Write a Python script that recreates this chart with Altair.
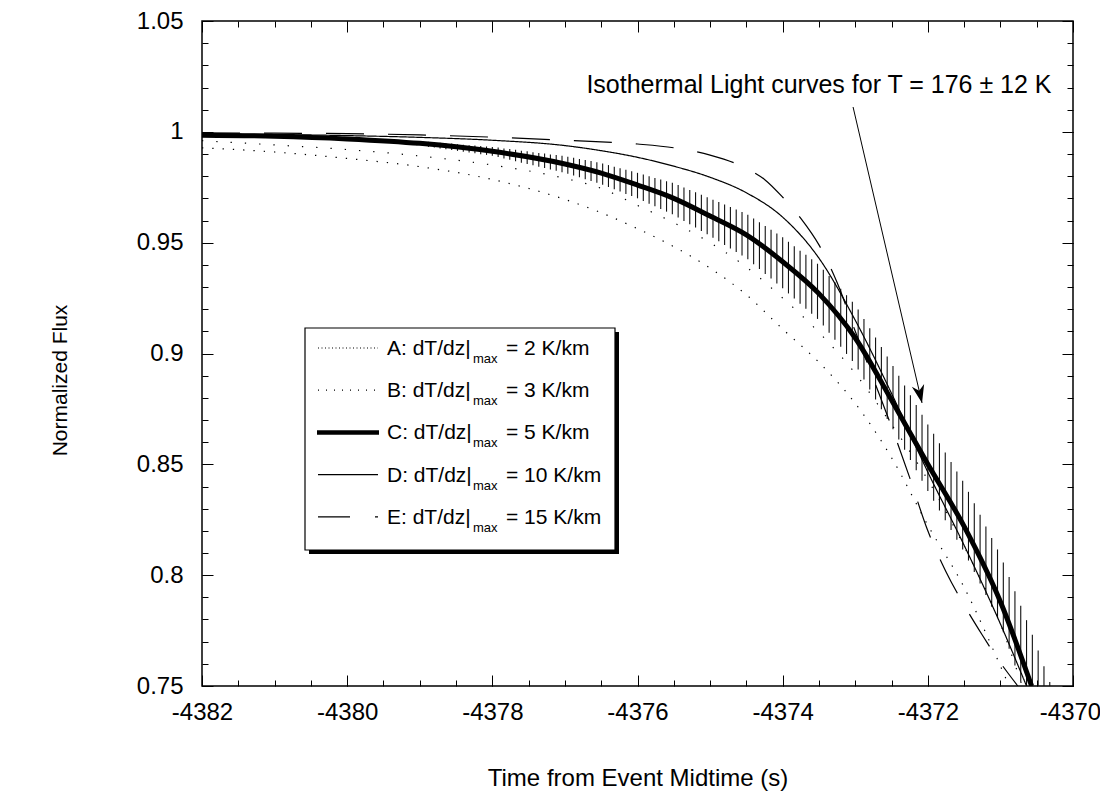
import altair as alt
import pandas as pd

# ---------------- data ----------------
# Curve C (thick): dT/dz|max = 5 K/km
C_T = [-4382, -4381, -4380, -4379, -4378, -4377, -4376.5, -4376, -4375.5, -4375,
       -4374.5, -4374, -4373.5, -4373, -4372.5, -4372, -4371.5, -4371, -4370.57]
C_F = [0.9985, 0.9980, 0.9968, 0.9948, 0.9912, 0.9855, 0.9814, 0.9760, 0.9700, 0.9620,
       0.9535, 0.9414, 0.9270, 0.9070, 0.8790, 0.8500, 0.8220, 0.7880, 0.7500]

# Curve A (fine dots): 2 K/km
A_T = [-4382, -4381, -4380, -4379, -4378, -4377, -4376.5, -4376, -4375.5, -4375,
       -4374.5, -4374, -4373.5, -4373, -4372.5, -4372, -4371.5, -4371, -4370.88]
A_F = [0.9928, 0.9909, 0.9880, 0.9843, 0.9785, 0.9695, 0.9635, 0.9563, 0.9482, 0.9385,
       0.9265, 0.9110, 0.8960, 0.8775, 0.8530, 0.8225, 0.7945, 0.7590, 0.7500]

# Curve B (sparse dots): 3 K/km
B_T = [-4382, -4381, -4380, -4379, -4378, -4377, -4376.5, -4376, -4375.5, -4375,
       -4374.5, -4374, -4373.5, -4373, -4372.5, -4372, -4371.5, -4371, -4370.7]
B_F = [0.9960, 0.9941, 0.9920, 0.9891, 0.9850, 0.9790, 0.9745, 0.9668, 0.9590, 0.9500,
       0.9390, 0.9250, 0.9095, 0.8910, 0.8680, 0.8430, 0.8130, 0.7780, 0.7500]

# Curve D (thin solid): 10 K/km
D_T = [-4382, -4381, -4380, -4379, -4378, -4377, -4376.5, -4376, -4375.5, -4375,
       -4374.5, -4374, -4373.5, -4373, -4372.5, -4372, -4371.5, -4371, -4370.64]
D_F = [0.9990, 0.9988, 0.9983, 0.9975, 0.9962, 0.9938, 0.9915, 0.9885, 0.9845, 0.9795,
       0.9725, 0.9615, 0.9430, 0.9150, 0.8820, 0.8465, 0.8135, 0.7780, 0.7500]

# Curve E (long dashes): 15 K/km
E_T = [-4382, -4381, -4380, -4379, -4378, -4377, -4376, -4375.5, -4375, -4374.5,
       -4374.25, -4374, -4373.75, -4373.5, -4373.25, -4373, -4372.75, -4372.5,
       -4372.25, -4372, -4371.75, -4371.5, -4371.25, -4371, -4370.76]
E_F = [0.9995, 0.9994, 0.9992, 0.9986, 0.9976, 0.9962, 0.9945, 0.9928, 0.9895, 0.9835,
       0.9785, 0.9705, 0.9610, 0.9490, 0.9320, 0.9100, 0.8885, 0.8670, 0.8440,
       0.8200, 0.8015, 0.7865, 0.7730, 0.7605, 0.7500]

# Isothermal band (T = 176 +/- 12 K): vertical bars, time / low flux / high flux
BAR_T = [-4379.60, -4379.52, -4379.44, -4379.36, -4379.28, -4379.20, -4379.12, -4379.04,
         -4378.96, -4378.88, -4378.80, -4378.72, -4378.64, -4378.56, -4378.48, -4378.40,
         -4378.32, -4378.24, -4378.16, -4378.08, -4378.00,
         -4377.92, -4377.84, -4377.76, -4377.68, -4377.60, -4377.52, -4377.44, -4377.36,
         -4377.28, -4377.20, -4377.12, -4377.04,
         -4376.96, -4376.88, -4376.80, -4376.72, -4376.64, -4376.56,
         -4376.48, -4376.40, -4376.32, -4376.24, -4376.16, -4376.08, -4376.00,
         -4375.92, -4375.84, -4375.76, -4375.68, -4375.60, -4375.52,
         -4375.44, -4375.36, -4375.28, -4375.20, -4375.12, -4375.04,
         -4374.96, -4374.88, -4374.80, -4374.72, -4374.64, -4374.56,
         -4374.48, -4374.40, -4374.32, -4374.24, -4374.16, -4374.08, -4374.00,
         -4373.92, -4373.84, -4373.76, -4373.68, -4373.60, -4373.52,
         -4373.44, -4373.36, -4373.28, -4373.20, -4373.12, -4373.04,
         -4372.96, -4372.88, -4372.80, -4372.72, -4372.64, -4372.56,
         -4372.48, -4372.40, -4372.32, -4372.24, -4372.16, -4372.08, -4372.00,
         -4371.92, -4371.84, -4371.76, -4371.68, -4371.60, -4371.52,
         -4371.44, -4371.36, -4371.28, -4371.20, -4371.12, -4371.04,
         -4370.96, -4370.88, -4370.80, -4370.72, -4370.64,
         -4370.56, -4370.48, -4370.40, -4370.32]
BAR_HI = [0.9965, 0.9964, 0.9963, 0.9962, 0.9961, 0.9960, 0.9959, 0.9958,
          0.9957, 0.9955, 0.9953, 0.9951, 0.9949, 0.9947, 0.9944, 0.9942,
          0.9940, 0.9938, 0.9936, 0.9934, 0.9932,
          0.9929, 0.9925, 0.9922, 0.9919, 0.9915, 0.9912, 0.9908, 0.9905,
          0.9902, 0.9898, 0.9895, 0.9892,
          0.9888, 0.9883, 0.9878, 0.9873, 0.9868, 0.9863,
          0.9857, 0.9850, 0.9843, 0.9836, 0.9829, 0.9822, 0.9815,
          0.9807, 0.9800, 0.9792, 0.9785, 0.9777, 0.9770,
          0.9760, 0.9749, 0.9738, 0.9727, 0.9716, 0.9705,
          0.9694, 0.9683, 0.9672, 0.9661, 0.9650, 0.9638,
          0.9626, 0.9609, 0.9592, 0.9575, 0.9558, 0.9541, 0.9524,
          0.9504, 0.9484, 0.9464, 0.9445, 0.9425, 0.9405,
          0.9378, 0.9350, 0.9321, 0.9292, 0.9263, 0.9234,
          0.9199, 0.9156, 0.9114, 0.9072, 0.9029, 0.8987,
          0.8944, 0.8900, 0.8856, 0.8812, 0.8768, 0.8724, 0.8680,
          0.8638, 0.8595, 0.8553, 0.8510, 0.8468, 0.8426,
          0.8376, 0.8324, 0.8272, 0.8220, 0.8168, 0.8116,
          0.8057, 0.7992, 0.7927, 0.7862, 0.7797,
          0.7731, 0.7660, 0.7589, 0.7518]
BAR_LO = [0.9955, 0.9953, 0.9950, 0.9948, 0.9946, 0.9944, 0.9941, 0.9939,
          0.9936, 0.9932, 0.9929, 0.9925, 0.9921, 0.9918, 0.9914, 0.9910,
          0.9907, 0.9903, 0.9899, 0.9896, 0.9892,
          0.9886, 0.9880, 0.9874, 0.9867, 0.9861, 0.9855, 0.9849, 0.9843,
          0.9837, 0.9830, 0.9824, 0.9818,
          0.9811, 0.9803, 0.9795, 0.9786, 0.9778, 0.9770,
          0.9761, 0.9751, 0.9741, 0.9731, 0.9720, 0.9710, 0.9700,
          0.9688, 0.9676, 0.9664, 0.9652, 0.9640, 0.9628,
          0.9614, 0.9598, 0.9583, 0.9568, 0.9553, 0.9538,
          0.9522, 0.9506, 0.9490, 0.9474, 0.9458, 0.9442,
          0.9425, 0.9403, 0.9381, 0.9359, 0.9338, 0.9316, 0.9294,
          0.9271, 0.9248, 0.9225, 0.9202, 0.9179, 0.9156,
          0.9126, 0.9094, 0.9062, 0.9030, 0.8998, 0.8966,
          0.8928, 0.8883, 0.8838, 0.8793, 0.8748, 0.8704,
          0.8658, 0.8612, 0.8566, 0.8519, 0.8473, 0.8426, 0.8380,
          0.8336, 0.8292, 0.8248, 0.8204, 0.8160, 0.8116,
          0.8066, 0.8014, 0.7962, 0.7910, 0.7858, 0.7806,
          0.7743, 0.7668, 0.7593, 0.7519, 0.7500,
          0.7500, 0.7500, 0.7500, 0.7500]

# Legend entries
SERIES = ["A", "B", "C", "D", "E"]
GRADIENT = [2, 3, 5, 10, 15]
THIN = ["A", "B", "D", "E"]

# Annotation
NOTE_TEXT = ["Isothermal Light curves for T = 176 \u00b1 12 K"]
NOTE_T = [-4373.50]
NOTE_F = [1.0174]
ARROW_T = [-4373.03, -4372.08]
ARROW_F = [1.0112, 0.8777]

# Axis tick values
X_MAJOR = [-4382, -4380, -4378, -4376, -4374, -4372, -4370]
X_MINOR = [-4382 + 0.5 * i for i in range(25)]
Y_MAJOR = [0.75, 0.8, 0.85, 0.9, 0.95, 1.0, 1.05]
Y_MINOR = [round(0.75 + 0.01 * i, 2) for i in range(31)]

# ---------------- tables ----------------
rows = []
for name, ts, fs in [("A", A_T, A_F), ("B", B_T, B_F), ("C", C_T, C_F),
                     ("D", D_T, D_F), ("E", E_T, E_F)]:
    for t, f in zip(ts, fs):
        rows.append({"series": name, "t": t, "f": f})
curve_df = pd.DataFrame(rows)
bars_df = pd.DataFrame({"t": BAR_T, "lo": BAR_LO, "hi": BAR_HI})
note_df = pd.DataFrame({"t": NOTE_T, "f": NOTE_F, "label": NOTE_TEXT})
arrow_df = pd.DataFrame({"t": ARROW_T, "f": ARROW_F})
head_df = pd.DataFrame({"t": ARROW_T[1:], "f": ARROW_F[1:]})
leg_df = pd.DataFrame({
    "series": SERIES,
    "i": list(range(len(SERIES))),
    "lab1": [f"{s}: dT/dz|" for s in SERIES],
    "lab2": [f"= {g} K/km" for g in GRADIENT],
})

FONT = "Liberation Sans"
xs = alt.Scale(domain=[-4382, -4370], nice=False, zero=False)
ys = alt.Scale(domain=[0.75, 1.05], nice=False, zero=False)


def ax(orient, values, size, **kw):
    base = dict(orient=orient, values=values, tickSize=size, offset=-size,
                domain=False, grid=False, ticks=True, tickColor="black",
                tickWidth=1, zindex=1, labelFlush=False)
    if "labels" not in kw:
        base["labels"] = False
    if "title" not in kw:
        base["title"] = None
    base.update(kw)
    return alt.Axis(**base)


bars = alt.Chart(bars_df).mark_rule(color="#111111", strokeWidth=1.1, clip=True).encode(
    x=alt.X("t:Q", scale=xs, axis=ax("bottom", X_MAJOR, 11, labels=True,
                                     title="Time from Event Midtime (s)",
                                     labelExpr="'' + datum.value",
                                     labelOffset={"condition": {"test": "datum.value == -4370",
                                                                "value": -3},
                                                  "value": 0},
                                     labelPadding=14, titlePadding=42,
                                     labelFontSize=24, titleFontSize=24,
                                     labelOverlap=False)),
    y=alt.Y("lo:Q", scale=ys, axis=ax("left", Y_MAJOR, 11, labels=True,
                                      title="Normalized Flux",
                                      labelExpr="'' + datum.value",
                                      labelPadding=19, titlePadding=66,
                                      titleY=359,
                                      labelFontSize=24, titleFontSize=21,
                                      labelOverlap=False)),
    y2="hi:Q",
)

thin_curves = alt.Chart(curve_df).transform_filter(
    alt.FieldOneOfPredicate(field="series", oneOf=THIN)
).mark_line(interpolate="monotone", color="black", strokeWidth=1.2, clip=True).encode(
    x=alt.X("t:Q", scale=xs, axis=ax("bottom", X_MINOR, 6)),
    y=alt.Y("f:Q", scale=ys, axis=ax("left", Y_MINOR, 6)),
    strokeDash=alt.StrokeDash("series:N", scale=alt.Scale(
        domain=THIN, range=[[1.3, 9], [1.3, 13], [1, 0], [38, 24]]), legend=None),
)

thick_curve = alt.Chart(curve_df).transform_filter(
    alt.datum.series == "C"
).mark_line(interpolate="monotone", color="black", strokeWidth=5, clip=True).encode(
    x=alt.X("t:Q", scale=xs, axis=None),
    y=alt.Y("f:Q", scale=ys, axis=None),
)

arrow = alt.Chart(arrow_df).mark_line(color="black", strokeWidth=1).encode(
    x=alt.X("t:Q", scale=xs, axis=ax("top", X_MAJOR, 11)),
    y=alt.Y("f:Q", scale=ys, axis=ax("right", Y_MAJOR, 11)),
)

note = alt.Chart(note_df).mark_text(font=FONT, fontSize=25, align="center",
                                    baseline="alphabetic", color="black").encode(
    x=alt.X("t:Q", scale=xs, axis=ax("top", X_MINOR, 6)),
    y=alt.Y("f:Q", scale=ys, axis=ax("right", Y_MINOR, 6)),
    text="label:N",
)

head = alt.Chart(head_df).mark_point(shape="M0,0 L-0.7,-2 L0,-1.4 L0.7,-2 Z", size=324,
                                     filled=True, color="black", opacity=1, angle=347).encode(
    x=alt.X("t:Q", scale=xs, axis=None),
    y=alt.Y("f:Q", scale=ys, axis=None),
)

one = pd.DataFrame({"k": [0]})
shadow = alt.Chart(one).mark_rect(color="black").encode(
    x=alt.value(107), x2=alt.value(417), y=alt.value(311), y2=alt.value(533))
box = alt.Chart(one).mark_rect(fill="white", stroke="black", strokeWidth=1.2).encode(
    x=alt.value(103), x2=alt.value(413), y=alt.value(307), y2=alt.value(529))

leg = alt.Chart(leg_df).transform_calculate(
    base="334 + 42.2 * datum.i",
    mid="327 + 42.2 * datum.i",
    sub="342 + 42.2 * datum.i",
)
leg_thin = leg.transform_filter(
    alt.FieldOneOfPredicate(field="series", oneOf=THIN)
).mark_rule(color="black", strokeWidth=1.2).encode(
    x=alt.value(116), x2=alt.value(176),
    y=alt.Y("mid:Q", scale=None, axis=None),
    strokeDash=alt.StrokeDash("series:N", scale=alt.Scale(
        domain=THIN, range=[[1, 2.5], [1, 7], [1, 0], [32, 25, 3, 200]]), legend=None),
)
leg_thick = leg.transform_filter(alt.datum.series == "C").mark_rule(
    color="black", strokeWidth=4.5).encode(
    x=alt.value(115), x2=alt.value(177),
    y=alt.Y("mid:Q", scale=None, axis=None),
)
leg_t1 = leg.mark_text(font=FONT, fontSize=21, align="left", baseline="alphabetic",
                       color="black").encode(
    x=alt.value(185), y=alt.Y("base:Q", scale=None, axis=None), text="lab1:N")
leg_sub = leg.mark_text(font=FONT, fontSize=13, align="left", baseline="alphabetic",
                        color="black").encode(
    x=alt.value(271), y=alt.Y("sub:Q", scale=None, axis=None), text=alt.value("max"))
leg_t2 = leg.mark_text(font=FONT, fontSize=21, align="left", baseline="alphabetic",
                       color="black").encode(
    x=alt.value(304), y=alt.Y("base:Q", scale=None, axis=None), text="lab2:N")

chart = alt.layer(
    bars, thin_curves, thick_curve, arrow, note, head, shadow, box,
    leg_thin, leg_thick, leg_t1, leg_sub, leg_t2
).resolve_axis(
    x="independent", y="independent"
).resolve_scale(
    strokeDash="independent"
).properties(
    width=871, height=665,
    autosize=alt.AutoSizeParams(type="none"),
    padding={"left": 194, "top": 13, "right": 27, "bottom": 105},
).configure_view(
    stroke="black", strokeWidth=1.5
).configure_axis(
    labelFont=FONT, titleFont=FONT, labelColor="black", titleColor="black",
    titleFontWeight="normal"
)

chart.save("out.html", embed_options={"renderer": "svg", "actions": False})
